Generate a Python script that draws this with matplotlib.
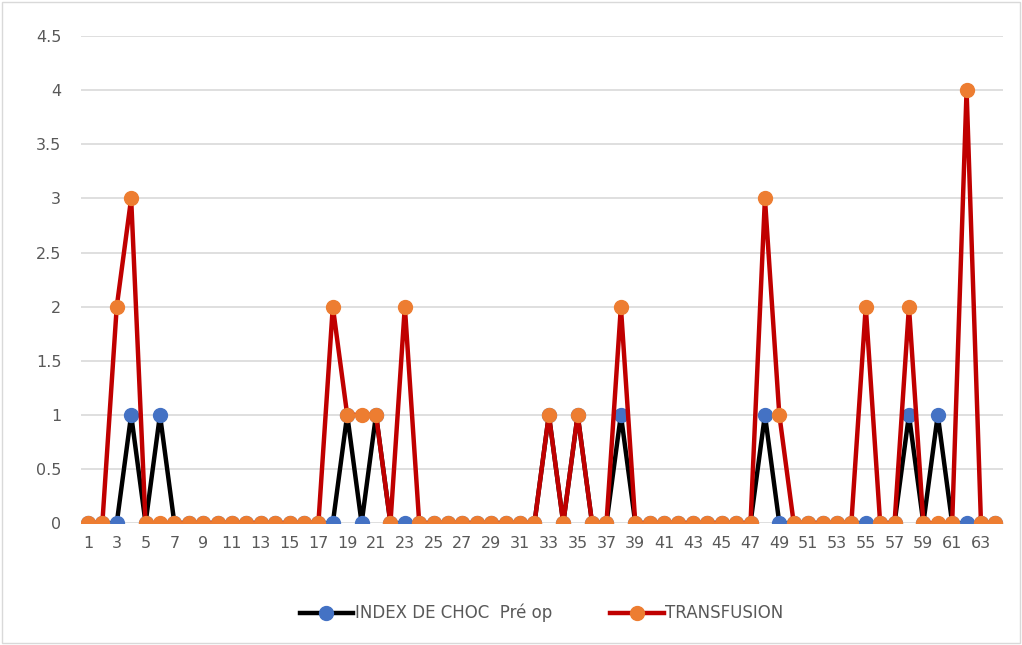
import matplotlib.pyplot as plt
from matplotlib.patches import Rectangle

# Data (patients 1..64)
patients = list(range(1, 65))
index_choc = [0, 0, 0, 1, 0, 1, 0, 0, 0, 0, 0, 0, 0, 0, 0, 0,
              0, 0, 1, 0, 1, 0, 0, 0, 0, 0, 0, 0, 0, 0, 0, 0,
              1, 0, 1, 0, 0, 1, 0, 0, 0, 0, 0, 0, 0, 0, 0, 1,
              0, 0, 0, 0, 0, 0, 0, 0, 0, 1, 0, 1, 0, 0, 0, 0]
transfusion = [0, 0, 2, 3, 0, 0, 0, 0, 0, 0, 0, 0, 0, 0, 0, 0,
               0, 2, 1, 1, 1, 0, 2, 0, 0, 0, 0, 0, 0, 0, 0, 0,
               1, 0, 1, 0, 0, 2, 0, 0, 0, 0, 0, 0, 0, 0, 0, 3,
               1, 0, 0, 0, 0, 0, 2, 0, 0, 2, 0, 0, 0, 4, 0, 0]
y_ticks = [0, 0.5, 1, 1.5, 2, 2.5, 3, 3.5, 4, 4.5]
y_tick_labels = ['0', '0.5', '1', '1.5', '2', '2.5', '3', '3.5', '4', '4.5']

text_color = '#595959'

fig = plt.figure(figsize=(10.22, 6.45), dpi=100)
ax = fig.add_axes([0.079, 0.189, 0.902, 0.755])

ax.plot(patients, index_choc, color='black', linewidth=3.2, marker='o',
        markersize=10, markerfacecolor='#4472C4', markeredgecolor='#4472C4',
        label='INDEX DE CHOC  Pré op', zorder=3)
ax.plot(patients, transfusion, color='#C00000', linewidth=3.2, marker='o',
        markersize=10, markerfacecolor='#ED7D31', markeredgecolor='#ED7D31',
        label='TRANSFUSION', zorder=4)

## Axis
ax.set_xlim(0.5, 64.5)
ax.set_ylim(0, 4.5)
ax.set_xticks(patients[::2])
ax.set_xticklabels([str(p) for p in patients[::2]])
ax.set_yticks(y_ticks)
ax.set_yticklabels(y_tick_labels)
ax.tick_params(axis='both', length=0, labelsize=11.5, colors=text_color)
ax.tick_params(axis='x', pad=9)
ax.tick_params(axis='y', pad=14)

for side in ['top', 'right', 'left', 'bottom']:
    ax.spines[side].set_visible(False)

ax.grid(axis='y', color='#d9d9d9', linewidth=1.2)
ax.set_axisbelow(True)

## Legend
ax.legend(loc='upper center', bbox_to_anchor=(0.5, -0.135), ncol=2, frameon=False,
          fontsize=12, labelcolor=text_color, handlelength=3.2, handletextpad=0.1,
          columnspacing=3.5)

# Light frame around the whole chart
fig.patches.append(Rectangle((0.002, 0.003), 0.996, 0.994, transform=fig.transFigure,
                             fill=False, edgecolor='#d9d9d9', linewidth=1))

fig.savefig('out.png', dpi=100)
